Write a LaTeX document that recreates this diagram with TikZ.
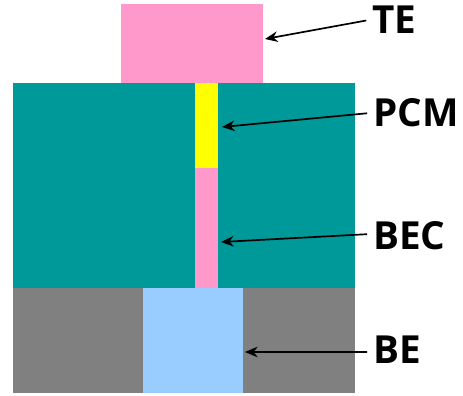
\documentclass[tikz,border=0pt]{standalone}
\usepackage{fontspec}
\setmainfont{Open Sans}
\usetikzlibrary{arrows.meta, positioning}
\definecolor{electrodePink}{RGB}{255, 153, 204}
\definecolor{oxideTeal}{RGB}{0, 153, 153}
\definecolor{pcmYellow}{RGB}{255, 255, 0}
\definecolor{substrateGray}{RGB}{128, 128, 128}
\definecolor{bottomBlue}{RGB}{153, 204, 255}

\begin{document}
\begin{tikzpicture}[
    x=0.025cm, y=-0.025cm,
    block/.style={rectangle, fill=#1, draw=none, inner sep=0pt, anchor=north west},
    layerlabel/.style={font=\fontsize{27.5}{30}\selectfont\bfseries, anchor=west, inner sep=2pt, text height=19.8pt, text depth=0pt},
    pointer/.style={-{Stealth[length=9pt, width=7.5pt]}, draw=black, line width=1.2pt, shorten <=2pt},
]
\useasboundingbox (0, 0) rectangle (463, 396);
% STACK
\node[block=electrodePink, minimum width=3.55cm, minimum height=1.975cm] (te) at (121, 4) {};
\node[block=oxideTeal, minimum width=8.56cm, minimum height=5.125cm] (oxide) at (12.5, 83) {};
\node[block=pcmYellow, minimum width=0.56cm, minimum height=2.125cm] (pcm) at (195, 83) {};
\node[block=electrodePink, minimum width=0.56cm, minimum height=3cm] (bec) at (195, 168) {};
\node[block=substrateGray, minimum width=8.55cm, minimum height=2.625cm] (substrate) at (13, 288) {};
\node[block=bottomBlue, minimum width=2.5cm, minimum height=2.625cm] (be) at (143, 288) {};
% LABELS
\node[layerlabel] (te_lab) at (369, 20) {TE};
\node[layerlabel] (pcm_lab) at (370, 113) {PCM};
\node[layerlabel] (bec_lab) at (370, 236) {BEC};
\node[layerlabel] (be_lab) at (370, 350) {BE};
% ARROWS
\coordinate (te_tip) at (265, 39);
\coordinate (pcm_tip) at (222, 127);
\coordinate (bec_tip) at (221, 242);
\coordinate (be_tip) at (245, 352);
\draw[pointer] (te_lab.west) -- (te_tip);
\draw[pointer] (pcm_lab.west) -- (pcm_tip);
\draw[pointer] ([yshift=1.4pt]bec_lab.west) -- (bec_tip);
\draw[pointer] ([yshift=-1.4pt]be_lab.west) -- (be_tip);
\end{tikzpicture}
\end{document}
